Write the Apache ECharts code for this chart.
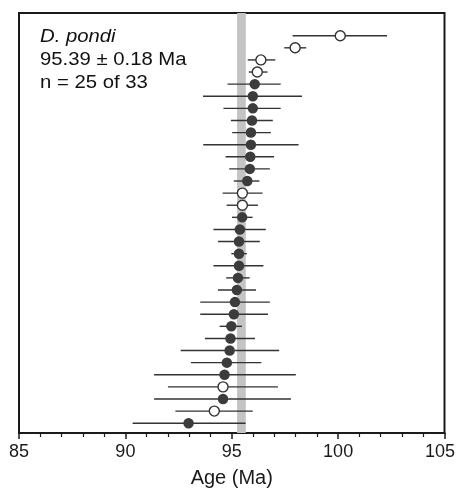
<!DOCTYPE html>
<html>
<head>
<meta charset="utf-8">
<script src="https://cdn.jsdelivr.net/npm/echarts@6/dist/echarts.min.js"></script>
<style>
html,body{margin:0;padding:0;background:#fff;}
#chart{width:458px;height:489px;}
</style>
</head>
<body>
<div id="chart"></div>
<script>
// Individual ages (Ma), top row first
const ages = [100.10, 97.98, 96.37, 96.20, 96.08, 95.99, 95.99, 95.95, 95.90, 95.90, 95.87,
  95.85, 95.73, 95.50, 95.50, 95.49, 95.38, 95.34, 95.34, 95.34, 95.29, 95.24,
  95.15, 95.10, 94.98, 94.94, 94.90, 94.77, 94.66, 94.59, 94.59, 94.18, 92.97];
// Error bar lower ends (Ma)
const errLow = [97.86, 97.47, 95.75, 95.80, 94.80, 93.65, 94.61, 94.96, 95.02, 93.66, 94.71,
  94.88, 95.10, 94.57, 94.76, 95.01, 94.14, 94.35, 94.98, 94.14, 94.74, 94.35,
  93.52, 93.52, 94.43, 93.74, 92.60, 93.08, 91.35, 92.00, 91.35, 92.35, 90.34];
// Error bar upper ends (Ma)
const errHigh = [102.30, 98.50, 97.05, 96.68, 97.30, 98.30, 97.30, 96.93, 96.84, 98.14, 96.99,
  96.79, 96.30, 96.45, 96.23, 95.98, 96.60, 96.32, 95.71, 96.49, 95.84, 96.14,
  96.79, 96.70, 95.48, 96.09, 97.23, 96.39, 98.01, 97.17, 97.78, 95.99, 95.65];
// true = excluded from the mean (open circle)
const excluded = [true, true, true, true, false, false, false, false, false, false, false,
  false, false, true, true, false, false, false, false, false, false, false,
  false, false, false, false, false, false, false, true, false, true, false];
// Weighted mean band (Ma) as drawn
const bandRange = [95.25, 95.66];
const xTicks = { min: 85, max: 105, interval: 5 };
const annotation = ['D. pondi', '95.39 ± 0.18 Ma', 'n = 25 of 33'];
const axisTitle = 'Age (Ma)';

const barData = ages.map((a, i) => [errLow[i], errHigh[i], i + 1]);
const filledData = [], openData = [];
ages.forEach((a, i) => { (excluded[i] ? openData : filledData).push([a, i + 1]); });

const chart = echarts.init(document.getElementById('chart'), null, {renderer: 'canvas'});
const FONT = '"Liberation Sans", Arial, Helvetica, sans-serif';
chart.setOption({
  backgroundColor: '#ffffff',
  animation: false,
  grid: { left: 19, right: 13.5, top: 13, bottom: 56, show: true, borderColor: '#1a1a1a', borderWidth: 2,
    backgroundColor: 'transparent', containLabel: false, outerBoundsMode: 'none' },
  xAxis: {
    type: 'value', min: xTicks.min, max: xTicks.max, interval: xTicks.interval,
    position: 'bottom',
    name: axisTitle, nameLocation: 'middle', nameGap: 35,
    nameTextStyle: { fontFamily: FONT, fontSize: 20, color: '#1a1a1a' },
    axisLine: { show: true, onZero: false, lineStyle: { color: '#1a1a1a', width: 2 } },
    axisTick: { show: true, inside: false, length: 6, lineStyle: { color: '#1a1a1a', width: 1.5 } },
    minorTick: { show: true, splitNumber: 5, length: 4, lineStyle: { color: '#1a1a1a', width: 1.2 } },
    axisLabel: { fontFamily: FONT, fontSize: 18, color: '#1a1a1a', margin: 10,
      formatter: function (v) { return v === xTicks.max ? '{r|' + v + '}' : String(v); },
      rich: { r: { fontFamily: FONT, fontSize: 18, color: '#1a1a1a', padding: [0, 9, 0, 0] } } },
    splitLine: { show: false }, minorSplitLine: { show: false }
  },
  yAxis: {
    type: 'value', inverse: true, min: -0.875, max: 33.81, show: false,
    splitLine: { show: false }
  },
  graphic: annotation.map((t, i) => ({
    type: 'text', x: 40, y: [37, 60, 83.5][i], scaleX: 1.16, z: 10,
    style: { text: t, fill: '#111', verticalAlign: 'middle', align: 'left',
      font: (i === 0 ? 'italic ' : '') + '17.5px ' + FONT }
  })),
  series: [
    {
      type: 'custom', z: 2, silent: true,
      data: barData,
      encode: { x: [0, 1], y: 2 },
      renderItem: function (params, api) {
        const p1 = api.coord([api.value(0), api.value(2)]);
        const p2 = api.coord([api.value(1), api.value(2)]);
        return { type: 'line', shape: { x1: p1[0], y1: p1[1], x2: p2[0], y2: p2[1] },
          style: { stroke: '#333', lineWidth: 1.4 } };
      },
      markArea: {
        silent: true, z: 1,
        itemStyle: { color: '#c4c4c4' },
        data: [[{ xAxis: bandRange[0] }, { xAxis: bandRange[1] }]]
      }
    },
    {
      type: 'scatter', z: 3, silent: true, symbol: 'circle', symbolSize: 10.5,
      itemStyle: { color: '#3c3c3c', opacity: 1 },
      data: filledData
    },
    {
      type: 'scatter', z: 3, silent: true, symbol: 'circle', symbolSize: 10,
      itemStyle: { color: '#ffffff', borderColor: '#333', borderWidth: 1.4, opacity: 1 },
      data: openData
    }
  ]
});
</script>
</body>
</html>
